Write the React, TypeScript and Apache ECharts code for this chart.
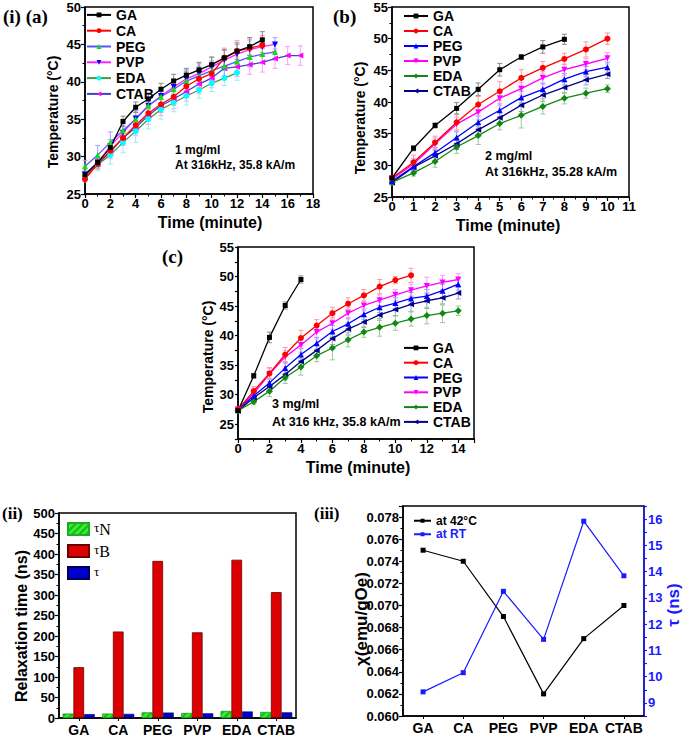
import React, { useEffect, useRef } from 'react';
import * as echarts from 'echarts';

const FONT = '"Liberation Sans", Arial, sans-serif';
const SERIF = '"Liberation Serif", "Times New Roman", serif';

const samples = ['GA', 'CA', 'PEG', 'PVP', 'EDA', 'CTAB'];

// ---- Panel (a): 1 mg/ml ----
const aGA = [27.6, 29.2, 31.2, 34.7, 36.6, 37.7, 39.0, 40.1, 40.9, 41.6, 42.3, 43.2, 44.1, 44.7, 45.6];
const aCA = [27.0, 29.0, 30.8, 32.5, 34.2, 35.8, 37.0, 38.0, 39.4, 40.4, 41.1, 43.2, 44.1, 44.5, 44.9];
const aPEG = [28.7, 30.2, 31.9, 33.5, 35.0, 36.8, 38.0, 39.0, 40.1, 40.8, 41.5, 42.1, 42.7, 43.3, 43.7, 44.0];
const aPVP = [27.6, 29.2, 31.4, 33.2, 35.1, 36.8, 38.1, 39.3, 40.4, 41.1, 42.0, 42.9, 43.7, 44.3, 44.7, 45.0];
const aEDA = [27.3, 28.9, 30.2, 31.9, 33.4, 35.0, 36.3, 37.2, 38.1, 38.9, 39.8, 40.5, 41.2];
const aCTAB = [27.5, 29.0, 30.6, 32.5, 33.9, 35.5, 36.8, 37.7, 38.7, 39.7, 40.5, 41.8, 42.0, 42.3, 42.6, 43.1, 43.5, 43.5];
const aErrGA = [0.3, 0.5, 0.6, 0.7, 0.7, 0.8, 0.8, 0.9, 0.9, 1.0, 1.0, 1.1, 1.1, 1.2, 1.1];
const aErrCA = [0.4, 0.6, 0.8, 0.9, 1.0, 1.0, 1.1, 1.1, 1.2, 1.2, 1.3, 1.3, 1.4, 1.4, 1.3];
const aErrPEG = [0.8, 1.3, 1.4, 1.2, 1.2, 1.2, 1.2, 1.2, 1.3, 1.3, 1.3, 1.3, 1.3, 1.3, 1.2, 1.1];
const aErrPVP = [0.5, 0.7, 0.9, 1.0, 1.0, 1.1, 1.1, 1.1, 1.2, 1.3, 1.3, 1.3, 1.3, 1.3, 1.2, 0.9];
const aErrEDA = [0.5, 0.8, 1.2, 1.4, 1.5, 1.3, 1.3, 1.2, 1.2, 1.1, 1.1, 1.0, 1.0];
const aErrCTAB = [0.5, 0.7, 0.9, 1.0, 1.1, 1.2, 1.3, 1.3, 1.3, 1.3, 1.3, 1.3, 1.3, 1.3, 1.3, 1.3, 1.2, 1.3];

// ---- Panel (b): 2 mg/ml ----
const bGA = [28.0, 32.7, 36.3, 39.0, 42.0, 45.1, 47.1, 48.7, 49.9];
const bCA = [28.0, 30.5, 33.6, 36.8, 39.6, 41.7, 43.8, 45.4, 46.8, 48.3, 50.0];
const bPEG = [27.5, 29.8, 32.0, 34.4, 36.8, 38.7, 40.7, 42.0, 43.6, 44.8, 45.5];
const bPVP = [27.8, 30.2, 33.4, 36.5, 38.4, 40.6, 42.1, 43.8, 45.1, 46.0, 46.9];
const bEDA = [27.3, 28.8, 30.6, 32.9, 34.7, 36.6, 37.9, 39.3, 40.6, 41.4, 42.1];
const bCTAB = [27.3, 29.7, 31.5, 33.4, 35.6, 37.5, 39.5, 41.1, 42.3, 43.5, 44.4];
const bErrGA = [0.3, 0.4, 0.4, 0.9, 1.0, 1.0, 0.4, 1.0, 0.8];
const bErrCA = [0.4, 1.1, 1.0, 1.2, 1.3, 1.5, 1.3, 1.0, 0.9, 1.2, 0.9];
const bErrPEG = [0.4, 0.6, 0.8, 0.9, 1.0, 1.0, 1.0, 1.0, 0.9, 0.8, 0.8];
const bErrPVP = [0.4, 0.9, 0.9, 1.1, 1.2, 1.2, 1.0, 1.0, 0.9, 0.9, 0.9];
const bErrEDA = [0.4, 0.5, 0.9, 1.0, 1.4, 1.0, 2.0, 1.2, 0.9, 0.8, 0.6];
const bErrCTAB = [0.4, 0.6, 0.8, 0.9, 1.0, 1.0, 1.0, 1.0, 0.9, 0.8, 0.7];

// ---- Panel (c): 3 mg/ml ----
const cGA = [27.3, 33.2, 39.7, 45.1, 49.5];
const cCA = [27.5, 30.6, 33.6, 36.8, 39.6, 41.7, 43.8, 45.4, 46.8, 48.3, 49.4, 50.2];
const cPEG = [27.5, 29.8, 32.0, 34.5, 36.8, 38.7, 40.7, 42.0, 43.6, 44.8, 45.5, 46.3, 46.7, 47.6, 48.7];
const cPVP = [27.5, 30.2, 33.5, 36.4, 38.4, 40.6, 42.1, 43.8, 45.1, 46.0, 46.9, 47.7, 48.4, 49.0, 49.5];
const cEDA = [27.3, 28.8, 30.6, 32.9, 34.7, 36.6, 37.9, 39.3, 40.6, 41.4, 42.1, 42.8, 43.4, 43.8, 44.2];
const cCTAB = [27.3, 29.5, 31.4, 33.4, 35.6, 37.5, 39.5, 41.1, 42.3, 43.5, 44.4, 45.3, 45.9, 46.4, 47.2];
const cErrGA = [0.3, 0.4, 0.9, 0.6, 0.6];
const cErrCA = [0.4, 0.8, 1.0, 1.2, 1.3, 1.0, 1.0, 1.0, 1.0, 1.2, 0.6, 1.2];
const cErrPEG = [0.4, 0.6, 0.8, 0.9, 1.0, 1.0, 1.0, 1.0, 0.9, 0.9, 0.9, 1.0, 1.1, 1.1, 1.0];
const cErrPVP = [0.4, 0.9, 0.9, 1.1, 1.2, 1.2, 1.0, 1.0, 0.9, 0.9, 0.9, 1.0, 1.5, 1.2, 1.0];
const cErrEDA = [0.4, 0.5, 0.9, 1.0, 1.4, 1.0, 2.0, 1.2, 0.9, 1.5, 1.2, 1.2, 1.4, 1.6, 0.8];
const cErrCTAB = [0.4, 0.6, 0.8, 0.9, 1.0, 1.0, 1.0, 1.0, 0.9, 0.9, 1.0, 1.2, 1.3, 1.2, 1.0];

// ---- Panel (ii): relaxation times (ns) ----
const tauN = [10.5, 10.5, 13.5, 12.0, 17.0, 14.5];
const tauB = [124, 211, 383, 209, 386, 307];
const tauEff = [9.4, 10.1, 13.2, 11.4, 15.9, 13.8];

// ---- Panel (iii) ----
const chi42 = [0.075, 0.074, 0.069, 0.062, 0.067, 0.070];
const tauRT = [9.42, 10.15, 13.25, 11.42, 15.92, 13.84];

type Sty = { line: string; mark: string; err: string; symbol: string; rot: number; size: number };

const styleA: Record<string, Sty> = {
  GA: { line: '#000000', mark: '#000000', err: '#8a8a8a', symbol: 'rect', rot: 0, size: 5 },
  CA: { line: '#ff0000', mark: '#ff0000', err: '#ff9a9a', symbol: 'circle', rot: 0, size: 6 },
  PEG: { line: '#5555ff', mark: '#11dd11', err: '#a0a0ff', symbol: 'triangle', rot: 0, size: 6 },
  PVP: { line: '#ff22ff', mark: '#0000ff', err: '#a0a0ff', symbol: 'triangle', rot: 180, size: 6 },
  EDA: { line: '#449944', mark: '#00ffff', err: '#99eeee', symbol: 'circle', rot: 0, size: 6 },
  CTAB: { line: '#4040cc', mark: '#ff00ff', err: '#ff99ff', symbol: 'triangle', rot: 90, size: 6 },
};
const styleBC: Record<string, Sty> = {
  GA: { line: '#000000', mark: '#000000', err: '#8a8a8a', symbol: 'rect', rot: 0, size: 5 },
  CA: { line: '#ff0000', mark: '#ff0000', err: '#ff9a9a', symbol: 'circle', rot: 0, size: 6 },
  PEG: { line: '#0000ff', mark: '#0000ff', err: '#9a9aff', symbol: 'triangle', rot: 0, size: 6 },
  PVP: { line: '#ff00ff', mark: '#ff00ff', err: '#ff9aff', symbol: 'triangle', rot: 180, size: 6 },
  EDA: { line: '#118811', mark: '#118811', err: '#99cc99', symbol: 'diamond', rot: 0, size: 7 },
  CTAB: { line: '#000088', mark: '#000088', err: '#9a9acc', symbol: 'triangle', rot: 90, size: 6 },
};

function lineSeries(prefix: string, g: number, name: string, vals: number[], errs: number[], s: Sty) {
  const line = {
    type: 'line',
    name: prefix + ':' + name,
    xAxisIndex: g,
    yAxisIndex: g,
    data: vals.map((v, i) => [i, v]),
    symbol: s.symbol,
    symbolSize: s.size,
    symbolRotate: s.rot,
    showAllSymbol: true,
    lineStyle: { color: s.line, width: 1.3 },
    itemStyle: { color: s.mark },
    z: 4,
  };
  const err = {
    type: 'custom',
    name: prefix + ':err:' + name,
    xAxisIndex: g,
    yAxisIndex: g,
    silent: true,
    z: 2,
    encode: { x: 0, y: [1, 2] },
    data: vals.map((v, i) => [i, v - errs[i], v + errs[i]]),
    renderItem: (params: any, api: any) => {
      const x = api.value(0);
      const p1 = api.coord([x, api.value(1)]);
      const p2 = api.coord([x, api.value(2)]);
      const w = 2.5;
      const st = { stroke: s.err, lineWidth: 1 };
      return {
        type: 'group',
        children: [
          { type: 'line', shape: { x1: p1[0], y1: p1[1], x2: p2[0], y2: p2[1] }, style: st },
          { type: 'line', shape: { x1: p1[0] - w, y1: p1[1], x2: p1[0] + w, y2: p1[1] }, style: st },
          { type: 'line', shape: { x1: p2[0] - w, y1: p2[1], x2: p2[0] + w, y2: p2[1] }, style: st },
        ],
      };
    },
  };
  return [err, line];
}

const BOLD = { fontFamily: FONT, fontWeight: 'bold' as const, color: '#000' };

function valueAxis(extra: any) {
  return {
    type: 'value',
    axisLine: { show: true, onZero: false, lineStyle: { color: '#000', width: 1.5 } },
    axisTick: { show: true, inside: false, length: 4, lineStyle: { color: '#000', width: 1.2 } },
    minorTick: { show: true, splitNumber: 2, length: 2.5, lineStyle: { color: '#000', width: 1 } },
    splitLine: { show: false },
    minorSplitLine: { show: false },
    axisLabel: { ...BOLD, fontSize: 13, margin: 4 },
    ...extra,
  };
}

function catAxis(g: number) {
  return {
    type: 'category',
    gridIndex: g,
    data: samples,
    boundaryGap: true,
    axisLine: { show: true, lineStyle: { color: '#000', width: 1.5 } },
    axisTick: { show: true, alignWithLabel: true, length: 3, lineStyle: { color: '#000' } },
    axisLabel: { ...BOLD, fontSize: 14, margin: 5, interval: 0 },
    splitLine: { show: false },
  };
}

function txt(x: number, y: number, text: string, size: number, opts: any = {}) {
  return {
    type: 'text',
    x,
    y,
    rotation: opts.rotation || 0,
    z: 10,
    style: {
      text,
      x: 0,
      y: 0,
      fill: opts.color || '#000',
      fontFamily: opts.family || FONT,
      fontWeight: 'bold',
      fontSize: size,
      textAlign: opts.align || 'left',
      textVerticalAlign: 'middle',
      verticalAlign: 'middle',
    },
  };
}

function lineLegend(prefix: string, left: number, top: number, rowH: number) {
  return {
    show: true,
    orient: 'vertical',
    left,
    top,
    padding: 0,
    itemGap: 0,
    itemWidth: 24,
    itemHeight: 6,
    data: samples.map((s) => prefix + ':' + s),
    formatter: (n: string) => n.split(':')[1],
    textStyle: { ...BOLD, fontSize: 14, lineHeight: rowH, padding: [0, 0, 0, 0] },
    selectedMode: false,
  };
}

export default function App() {
  const ref = useRef<HTMLDivElement>(null);
  useEffect(() => {
    if (!ref.current) return;
    const chart = echarts.init(ref.current, undefined, { renderer: 'svg' });

    const series: any[] = [];
    const aVals: Record<string, number[]> = { GA: aGA, CA: aCA, PEG: aPEG, PVP: aPVP, EDA: aEDA, CTAB: aCTAB };
    const aErrs: Record<string, number[]> = { GA: aErrGA, CA: aErrCA, PEG: aErrPEG, PVP: aErrPVP, EDA: aErrEDA, CTAB: aErrCTAB };
    const bVals: Record<string, number[]> = { GA: bGA, CA: bCA, PEG: bPEG, PVP: bPVP, EDA: bEDA, CTAB: bCTAB };
    const bErrs: Record<string, number[]> = { GA: bErrGA, CA: bErrCA, PEG: bErrPEG, PVP: bErrPVP, EDA: bErrEDA, CTAB: bErrCTAB };
    const cVals: Record<string, number[]> = { GA: cGA, CA: cCA, PEG: cPEG, PVP: cPVP, EDA: cEDA, CTAB: cCTAB };
    const cErrs: Record<string, number[]> = { GA: cErrGA, CA: cErrCA, PEG: cErrPEG, PVP: cErrPVP, EDA: cErrEDA, CTAB: cErrCTAB };
    const order = ['CTAB', 'EDA', 'PVP', 'PEG', 'CA', 'GA'];
    order.forEach((s) => series.push(...lineSeries('a', 0, s, aVals[s], aErrs[s], styleA[s])));
    order.forEach((s) => series.push(...lineSeries('b', 1, s, bVals[s], bErrs[s], styleBC[s])));
    order.forEach((s) => series.push(...lineSeries('c', 2, s, cVals[s], cErrs[s], styleBC[s])));

    series.push(
      {
        type: 'bar', name: 'τN', xAxisIndex: 3, yAxisIndex: 3, data: tauN, barGap: '0%', barCategoryGap: '19%',
        itemStyle: {
          color: '#33ee33', borderColor: '#22aa22', borderWidth: 0.6,
          decal: { symbol: 'rect', symbolSize: 1, color: 'rgba(0,110,0,0.45)', dashArrayX: [1, 0], dashArrayY: [2, 3], rotation: -Math.PI / 4 },
        },
      },
      {
        type: 'bar', name: 'τB', xAxisIndex: 3, yAxisIndex: 3, data: tauB, barGap: '0%', barCategoryGap: '19%',
        itemStyle: { color: '#dd0000', borderColor: '#6a0000', borderWidth: 0.8 },
      },
      {
        type: 'bar', name: 'τ', xAxisIndex: 3, yAxisIndex: 3, data: tauEff, barGap: '0%', barCategoryGap: '19%',
        itemStyle: { color: '#0000cc', borderColor: '#000055', borderWidth: 0.6 },
      },
      {
        type: 'line', name: 'at 42°C', xAxisIndex: 4, yAxisIndex: 4, data: chi42,
        symbol: 'rect', symbolSize: 5, lineStyle: { color: '#000', width: 1.2 }, itemStyle: { color: '#000' },
      },
      {
        type: 'line', name: 'at RT', xAxisIndex: 4, yAxisIndex: 5, data: tauRT,
        symbol: 'rect', symbolSize: 5, lineStyle: { color: '#1a1aff', width: 1.2 }, itemStyle: { color: '#1a1aff' },
      }
    );

    const gridBox = { show: true, borderColor: '#000', borderWidth: 1.5, backgroundColor: 'transparent' };

    const option: any = {
      animation: false,
      backgroundColor: '#fff',
      grid: [
        { ...gridBox, left: 85, top: 7, width: 228, height: 187 },
        { ...gridBox, left: 392, top: 7, width: 237, height: 190 },
        { ...gridBox, left: 238, top: 247, width: 236, height: 192 },
        { ...gridBox, left: 59, top: 513, width: 237, height: 205 },
        { ...gridBox, left: 403, top: 506, width: 241, height: 210 },
      ],
      xAxis: [
        valueAxis({ gridIndex: 0, min: 0, max: 18, interval: 2, axisLabel: { ...BOLD, fontSize: 13, margin: 3 } }),
        valueAxis({ gridIndex: 1, min: 0, max: 11, interval: 1, axisLabel: { ...BOLD, fontSize: 13, margin: 3 } }),
        valueAxis({
          gridIndex: 2, min: 0, max: 15, interval: 2,
          axisLabel: { ...BOLD, fontSize: 13, margin: 3, formatter: (v: number) => (v % 2 === 0 ? String(v) : '') },
        }),
        catAxis(3),
        catAxis(4),
      ],
      yAxis: [
        valueAxis({ gridIndex: 0, min: 25, max: 50, interval: 5 }),
        valueAxis({ gridIndex: 1, min: 25, max: 55, interval: 5 }),
        valueAxis({
          gridIndex: 2, min: 22.5, max: 55, interval: 2.5,
          minorTick: { show: false },
          axisTick: { show: true, length: 3, lineStyle: { color: '#000', width: 1.2 } },
          axisLabel: { ...BOLD, fontSize: 13, margin: 4, formatter: (v: number) => (v % 5 === 0 ? String(v) : '') },
        }),
        valueAxis({ gridIndex: 3, min: 0, max: 500, interval: 50 }),
        valueAxis({
          gridIndex: 4, min: 0.06, max: 0.079, interval: 0.002,
          axisLabel: { ...BOLD, fontSize: 13, margin: 4, formatter: (v: number) => v.toFixed(3) },
        }),
        {
          type: 'value', gridIndex: 4, position: 'right', min: 8.5, max: 16.5, interval: 0.5,
          axisLine: { show: true, onZero: false, lineStyle: { color: '#1a1aff', width: 1.5 } },
          axisTick: { show: true, length: 3, lineStyle: { color: '#1a1aff', width: 1.2 } },
          splitLine: { show: false },
          axisLabel: {
            fontFamily: FONT, fontWeight: 'bold', fontSize: 13, color: '#1a1aff', margin: 4,
            formatter: (v: number) => (Math.abs(v - Math.round(v)) < 1e-6 ? String(Math.round(v)) : ''),
          },
        },
      ],
      legend: [
        lineLegend('a', 86, 7, 15.8),
        lineLegend('b', 403, 8.5, 15),
        lineLegend('c', 403, 340.5, 14.8),
        {
          show: true, orient: 'vertical', left: 67, top: 521, padding: 0, itemGap: 6,
          itemWidth: 21, itemHeight: 12, icon: 'rect', selectedMode: false,
          data: ['τN', 'τB', 'τ'],
          formatter: (n: string) => (n.length > 1 ? '{g|τ}{b|' + n.slice(1) + '}' : '{g|τ}'),
          textStyle: {
            lineHeight: 16,
            rich: {
              g: { fontFamily: SERIF, fontSize: 13, color: '#000', verticalAlign: 'top', lineHeight: 16 },
              b: { fontFamily: SERIF, fontSize: 16, color: '#000', lineHeight: 16 },
            },
          },
        },
        {
          show: true, orient: 'vertical', left: 413, top: 514, padding: 0, itemGap: 0,
          itemWidth: 17, itemHeight: 5, selectedMode: false,
          data: [
            { name: 'at 42°C', textStyle: { color: '#000' } },
            { name: 'at RT', textStyle: { color: '#1a1aff' } },
          ],
          textStyle: { fontFamily: FONT, fontWeight: 'bold', fontSize: 12, lineHeight: 13.5 },
        },
      ],
      graphic: [
        txt(3, 16, '(i) (a)', 19, { family: SERIF }),
        txt(333, 16, '(b)', 19, { family: SERIF }),
        txt(162, 256, '(c)', 19, { family: SERIF }),
        txt(2, 513, '(ii)', 17, { family: SERIF }),
        txt(314, 513, '(iii)', 17, { family: SERIF }),
        txt(175, 150, '1 mg/ml', 12),
        txt(175, 165, 'At 316kHz, 35.8 kA/m', 12),
        txt(485, 156, '2 mg/ml', 12.5),
        txt(485, 172, 'At 316kHz, 35.28 kA/m', 12.5),
        txt(272, 404, '3 mg/ml', 12.5),
        txt(272, 422, 'At 316 kHz, 35.8 kA/m', 12.5),
        txt(210, 222, 'Time (minute)', 16, { align: 'center' }),
        txt(508, 225, 'Time (minute)', 16, { align: 'center' }),
        txt(358, 467, 'Time (minute)', 16, { align: 'center' }),
        txt(53, 112, 'Temperature (°C)', 14, { align: 'center', rotation: Math.PI / 2 }),
        txt(360, 118, 'Temperature (°C)', 14, { align: 'center', rotation: Math.PI / 2 }),
        txt(208, 357, 'Temperature (°C)', 14, { align: 'center', rotation: Math.PI / 2 }),
        txt(21, 626, 'Relaxation time (ns)', 16, { align: 'center', rotation: Math.PI / 2 }),
        txt(361, 619, 'χ(emu/gOe)', 17, { align: 'center', rotation: Math.PI / 2 }),
        txt(673, 605, 'τ (ns)', 17, { align: 'center', rotation: Math.PI / 2, color: '#1a1aff' }),
      ],
      series,
    };
    chart.setOption(option);
    return () => chart.dispose();
  }, []);
  return <div ref={ref} style={{ width: 685, height: 739, position: 'absolute', left: 0, top: 0 }} />;
}
